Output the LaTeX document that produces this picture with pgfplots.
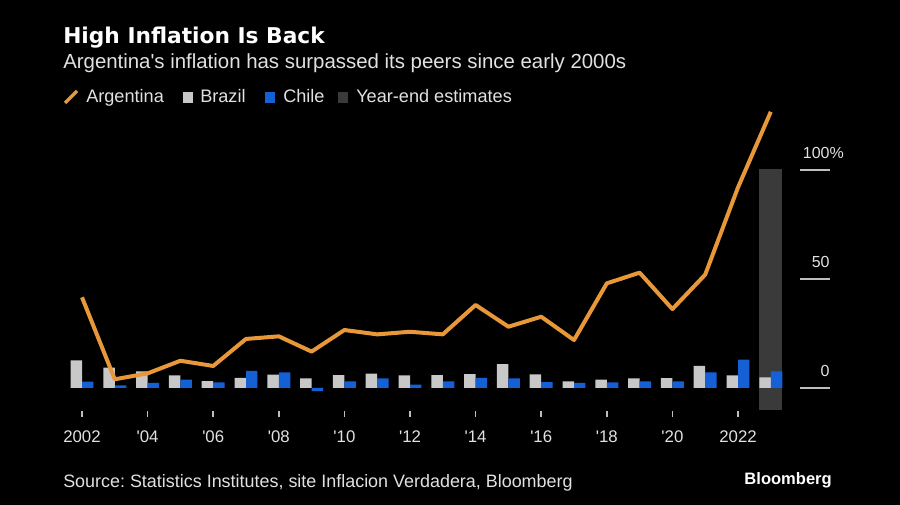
\documentclass[border=0pt]{standalone}
\usepackage{pgfplots}
\pgfplotsset{compat=1.18}
\usepackage{fontspec}
\setmainfont{Liberation Sans}
\newfontfamily\titlefont{DejaVu Sans}
\definecolor{argc}{RGB}{232,152,56}
\definecolor{brac}{RGB}{200,200,200}
\definecolor{chic}{RGB}{22,96,214}
\definecolor{estc}{RGB}{58,58,58}
\definecolor{txtc}{RGB}{225,225,225}
\definecolor{tickc}{RGB}{190,190,190}
\frenchspacing
\begin{document}
\begin{tikzpicture}
\begin{scope}[x=0.75pt,y=-0.75pt,yshift=378.75pt]
\fill[black] (0,0) rectangle (900,505);
\node[anchor=base west,inner sep=0,text=white,font=\titlefont\bfseries\fontsize{16.3pt}{18pt}\selectfont] at (63,44) {High Inflation Is Back};
\node[anchor=base west,inner sep=0,text=txtc,font=\fontsize{15.3pt}{17pt}\selectfont] at (63,69) {Argentina\textquotesingle s inflation has surpassed its peers since early 2000s};
% legend
\draw[argc,line width=2.4pt] (65,103) -- (77,91);
\node[anchor=base west,inner sep=0,text=txtc,font=\fontsize{13.6pt}{15pt}\selectfont] at (86,103) {Argentina};
\fill[brac] (183,92) rectangle (193,103);
\node[anchor=base west,inner sep=0,text=txtc,font=\fontsize{13.6pt}{15pt}\selectfont] at (200,103) {Brazil};
\fill[chic] (265,92) rectangle (275,103);
\node[anchor=base west,inner sep=0,text=txtc,font=\fontsize{13.6pt}{15pt}\selectfont] at (283,103) {Chile};
\fill[estc] (338,92) rectangle (348,103);
\node[anchor=base west,inner sep=0,text=txtc,font=\fontsize{13.6pt}{15pt}\selectfont] at (356,103) {Year-end estimates};
% footer
\node[anchor=base west,inner sep=0,text=txtc,font=\fontsize{13.45pt}{15pt}\selectfont] at (63,488) {Source: Statistics Institutes, site Inflacion Verdadera, Bloomberg};
\node[anchor=base east,inner sep=0,text=white,font=\bfseries\fontsize{12.4pt}{14pt}\selectfont] at (832,485) {Bloomberg};
\end{scope}
\begin{axis}[
  at={(36.9pt,66pt)}, anchor=south west,
  scale only axis, width=590.4pt, height=234.3pt,
  xmin=-1, xmax=23, ymin=-13.3, ymax=130,
  clip=false,
  axis y line=none,
  axis x line*=bottom,
  x axis line style={draw=none},
  xtick={0,2,...,20},
  xticklabels={2002,\textquotesingle 04,\textquotesingle 06,\textquotesingle 08,\textquotesingle 10,\textquotesingle 12,\textquotesingle 14,\textquotesingle 16,\textquotesingle 18,\textquotesingle 20,2022},
  major tick length=4.2pt,
  tick align=inside,
  x tick style={draw=tickc, line width=1.3pt},
  xticklabel style={font=\fontsize{12.6pt}{14pt}\selectfont, text=txtc, text height=9pt, text depth=0pt, yshift=-6.5pt},
  ytick=\empty,
]
% year-end estimate band
\addplot[fill=estc, draw=none, forget plot] coordinates {(20.65,-10) (21.35,-10) (21.35,100.5) (20.65,100.5)} -- cycle;
% Brazil
\addplot[ybar, bar width=0.35, bar shift=-0.175, fill=brac, draw=none] coordinates {
(0,12.7) (1,9.3) (2,7.6) (3,5.8) (4,3.2) (5,4.6) (6,6.1) (7,4.4) (8,5.9) (9,6.6) (10,5.8)
(11,5.9) (12,6.4) (13,10.9) (14,6.3) (15,3.0) (16,3.8) (17,4.4) (18,4.5) (19,10.2) (20,5.8) (21,4.9)};
% Chile
\addplot[ybar, bar width=0.35, bar shift=0.175, fill=chic, draw=none] coordinates {
(0,2.9) (1,1.2) (2,2.3) (3,3.8) (4,2.6) (5,7.9) (6,7.2) (7,-1.4) (8,3.0) (9,4.4) (10,1.5)
(11,3.0) (12,4.6) (13,4.4) (14,2.7) (15,2.3) (16,2.6) (17,3.0) (18,3.0) (19,7.2) (20,13.0) (21,7.6)};
% Argentina
\addplot[argc, line width=3pt, line join=round, mark=none] coordinates {
(0,41.6) (1,4.0) (2,6.7) (3,12.5) (4,10.1) (5,22.5) (6,23.7) (7,16.7) (8,26.6) (9,24.6) (10,25.8)
(11,24.6) (12,38.1) (13,28.1) (14,32.7) (15,22.0) (16,48.0) (17,52.9) (18,36.2) (19,52.0) (20,92.0) (21,126.7)};
% right-hand scale
\draw[tickc, line width=1.1pt] (axis cs:21.89,0) -- (axis cs:22.8,0);
\draw[tickc, line width=1.1pt] (axis cs:21.89,50) -- (axis cs:22.8,50);
\draw[tickc, line width=1.1pt] (axis cs:21.89,100) -- (axis cs:22.8,100);
\node[anchor=base east, inner sep=0, text=txtc, font=\fontsize{12pt}{14pt}\selectfont, yshift=8.25pt] at (axis cs:22.8,0) {0};
\node[anchor=base east, inner sep=0, text=txtc, font=\fontsize{12pt}{14pt}\selectfont, yshift=8.25pt] at (axis cs:22.8,50) {50};
\node[anchor=base east, inner sep=0, text=txtc, font=\fontsize{12pt}{14pt}\selectfont, yshift=8.25pt] at (axis cs:22.8,100) {100\rlap{\%}};
\end{axis}
\end{tikzpicture}
\end{document}
